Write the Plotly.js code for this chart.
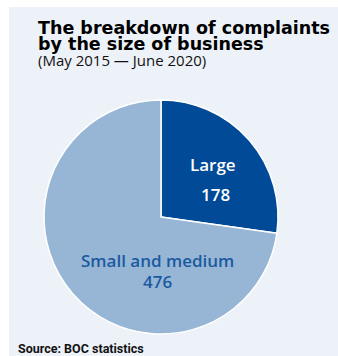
<!DOCTYPE html>
<html>
<head>
<meta charset="utf-8">
<script src="https://cdn.plot.ly/plotly-3.0.1.min.js"></script>
<style>html,body{margin:0;padding:0;background:#fff;}#chart{width:338px;height:356px;}</style>
</head>
<body>
<div id="chart"></div>
<script>
const categories = ["Large", "Small and medium"];
const values = [178, 476];
const sliceColors = ["#004a97", "#97b6d6"];
const textColors = ["#ffffff", "#1a5a9e"];
const titleLines = ["The breakdown of complaints", "by the size of business"];
const subtitle = "(May 2015 — June 2020)";
const source = "Source: BOC statistics";

const W = 338, H = 356;
const px = x => x / W;
const py = y => 1 - y / H;

const trace = {
  type: "pie",
  labels: categories,
  values: values,
  sort: false,
  direction: "clockwise",
  rotation: 0,
  marker: { colors: sliceColors, line: { color: "#ffffff", width: 1.5 } },
  textinfo: "none",
  hoverinfo: "none",
  showlegend: false,
  domain: { x: [px(44), px(278)], y: [py(334), py(100)] }
};

// label placement (pixels) for each category: [labelX, labelY, valueX, valueY]
const labelPos = [[213, 164, 215.5, 194], [157, 260.5, 157.5, 281.5]];
const sliceAnnotations = [];
categories.forEach((c, i) => {
  const p = labelPos[i];
  const f = { family: "Open Sans", size: 17, color: textColors[i], weight: 600 };
  sliceAnnotations.push({ text: c, xref: "paper", yref: "paper", x: px(p[0]), y: py(p[1]),
    xanchor: "center", yanchor: "middle", showarrow: false, font: f });
  sliceAnnotations.push({ text: String(values[i]), xref: "paper", yref: "paper", x: px(p[2]), y: py(p[3]),
    xanchor: "center", yanchor: "middle", showarrow: false, font: f });
});

const layout = {
  width: W, height: H,
  margin: { l: 0, r: 0, t: 0, b: 0 },
  paper_bgcolor: "#ffffff",
  plot_bgcolor: "rgba(0,0,0,0)",
  showlegend: false,
  shapes: [{
    type: "rect", xref: "paper", yref: "paper", layer: "below",
    x0: px(9), x1: 1.01, y0: -0.01, y1: py(7),
    fillcolor: "#edf2f9", line: { width: 0 }
  }],
  annotations: [
    { text: titleLines[0], xref: "paper", yref: "paper", x: px(36), y: py(27.5),
      xanchor: "left", yanchor: "middle", showarrow: false,
      font: { family: "DejaVu Sans", size: 17.5, color: "#000000", weight: 900 } },
    { text: titleLines[1], xref: "paper", yref: "paper", x: px(36), y: py(44),
      xanchor: "left", yanchor: "middle", showarrow: false,
      font: { family: "DejaVu Sans", size: 17.5, color: "#000000", weight: 900 } },
    { text: subtitle, xref: "paper", yref: "paper", x: px(36), y: py(60),
      xanchor: "left", yanchor: "middle", showarrow: false,
      font: { family: "Open Sans", size: 15, color: "#111111" } },
    { text: source, xref: "paper", yref: "paper", x: px(16), y: py(348),
      xanchor: "left", yanchor: "middle", showarrow: false,
      font: { family: "Roboto", size: 12.5, color: "#111111", weight: 700 } }
  ].concat(sliceAnnotations)
};

Plotly.newPlot("chart", [trace], layout, { displayModeBar: false, staticPlot: true });
</script>
</body>
</html>
